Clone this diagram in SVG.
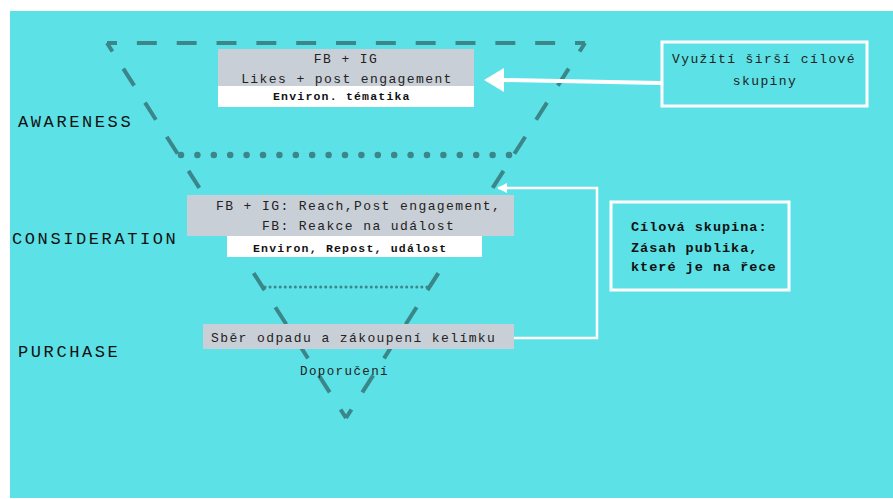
<svg xmlns="http://www.w3.org/2000/svg" width="893" height="499" viewBox="0 0 893 499">
<defs>
<style>
.funnel{fill:none;stroke:#3a8689;stroke-width:4;stroke-dasharray:20 20;stroke-dashoffset:10}
.dots1{fill:none;stroke:#3a8689;stroke-width:6.5;stroke-linecap:round;stroke-dasharray:0 16.4}
.dots2{fill:none;stroke:#3a8689;stroke-width:3;stroke-linecap:round;stroke-dasharray:0 5.06}
.gray{fill:#c9cfd7}
.white{fill:#ffffff}
.frame{fill:none;stroke:#ffffff;stroke-width:3}
.t{font-family:"Liberation Mono","DejaVu Sans Mono",monospace;font-size:13px;fill:#222222;letter-spacing:1.4px}
.b{font-family:"Liberation Mono","DejaVu Sans Mono",monospace;font-size:11.5px;font-weight:bold;fill:#111111;letter-spacing:1.2px}
.lab{font-family:"Liberation Mono","DejaVu Sans Mono",monospace;font-size:17px;fill:#111111;letter-spacing:2.6px}
.cb{font-family:"Liberation Mono","DejaVu Sans Mono",monospace;font-size:13.5px;font-weight:bold;fill:#111111;letter-spacing:1px}
.wire{fill:none;stroke:#ffffff}
</style>
<marker id="ah" viewBox="0 0 10 10" refX="9" refY="5" markerWidth="10" markerHeight="10" markerUnits="userSpaceOnUse" orient="auto-start-reverse">
<path d="M0,0 L10,5 L0,10 z" fill="#ffffff"/>
</marker>
</defs>
<rect x="10" y="11" width="883" height="487" fill="#5ce1e6"/>

<g id="funnel">
<line class="funnel" x1="107" y1="43" x2="585" y2="43" pathLength="480"/>
<line class="funnel" x1="107" y1="43" x2="346" y2="418" pathLength="440"/>
<line class="funnel" x1="585" y1="43" x2="346" y2="418" pathLength="440"/>
<line class="dots1" x1="181" y1="155" x2="510" y2="155"/>
<line class="dots2" x1="265" y1="287" x2="428" y2="287"/>
</g>

<g id="label-awareness"><text class="lab" x="18" y="127">AWARENESS</text></g>
<g id="label-consideration"><text class="lab" x="12" y="244">CONSIDERATION</text></g>
<g id="label-purchase"><text class="lab" x="18" y="357">PURCHASE</text></g>

<g id="connectors">
<line class="wire" x1="661" y1="83" x2="502" y2="80" stroke-width="4"/>
<polygon points="484,80 504,68 504,92" fill="#ffffff"/>
<path class="wire" d="M498,188 H597 V338 H502" stroke-width="2.5" marker-start="url(#ah)" marker-end="url(#ah)"/>
</g>

<g id="node-awareness">
<rect class="gray" x="218" y="49" width="256" height="37"/>
<rect class="white" x="218" y="86" width="256" height="21"/>
<text class="t" x="346" y="63" text-anchor="middle">FB + IG</text>
<text class="t" x="347" y="83" text-anchor="middle">Likes + post engagement</text>
<text class="b" x="273" y="100">Environ. tématika</text>
</g>

<g id="node-target-wide">
<rect class="frame" x="662" y="42" width="205" height="64"/>
<text class="t" x="672" y="63">Využítí širší cílové</text>
<text class="t" x="765" y="85" text-anchor="middle">skupiny</text>
</g>

<g id="node-consideration">
<rect class="gray" x="187" y="195" width="327" height="41"/>
<rect class="white" x="227" y="236" width="255" height="21"/>
<text class="t" x="216" y="210">FB + IG: Reach,Post engagement,</text>
<text class="t" x="262" y="230">FB: Reakce na událost</text>
<text class="b" x="253" y="252">Environ, Repost, událost</text>
</g>

<g id="node-target-river">
<rect class="frame" x="611" y="202" width="178" height="88"/>
<text class="cb" x="631" y="231">Cílová skupina:</text>
<text class="cb" x="631" y="252">Zásah publika,</text>
<text class="cb" x="631" y="271">které je na řece</text>
</g>

<g id="node-purchase">
<rect class="gray" x="203" y="324" width="311" height="25"/>
<text class="t" x="211" y="342">Sběr odpadu a zákoupení kelímku</text>
<text class="t" x="300" y="375" style="font-size:12.5px;letter-spacing:1.4px">Doporučení</text>
</g>
</svg>
